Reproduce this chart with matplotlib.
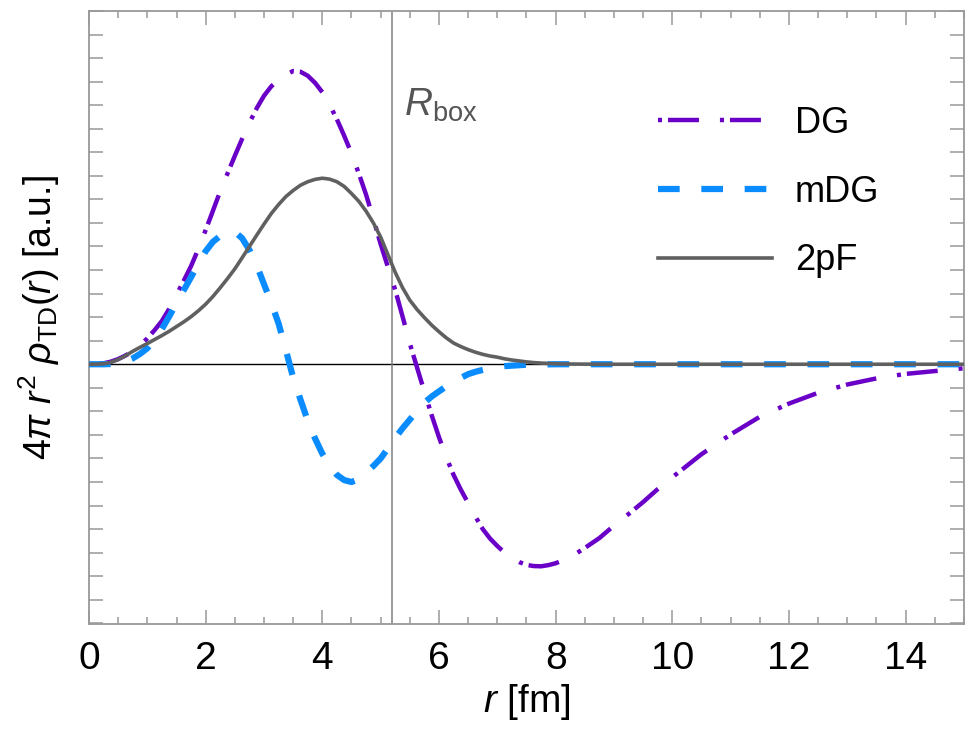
import numpy as np
import matplotlib
matplotlib.use("Agg")
import matplotlib.pyplot as plt
from matplotlib.ticker import MultipleLocator, NullFormatter

plt.rcParams['font.family'] = ['Liberation Sans', 'DejaVu Sans']
plt.rcParams['mathtext.fontset'] = 'custom'
plt.rcParams['mathtext.rm'] = 'Liberation Sans'
plt.rcParams['mathtext.it'] = 'Liberation Sans:italic'
plt.rcParams['mathtext.bf'] = 'Liberation Sans:bold'
plt.rcParams['lines.scale_dashes'] = False

# ---- data (arbitrary units) ----
r_vals = [0, 0.125, 0.25, 0.375, 0.5, 0.625, 0.75, 0.875, 1.0, 1.125, 1.25, 1.375, 1.5, 1.625,
          1.75, 1.875, 2.0, 2.125, 2.25, 2.375, 2.5, 2.625, 2.75, 2.875, 3.0, 3.125, 3.25, 3.375,
          3.5, 3.625, 3.75, 3.875, 4.0, 4.125, 4.25, 4.375, 4.5, 4.625, 4.75, 4.875, 5.0, 5.125,
          5.25, 5.375, 5.5, 5.625, 5.75, 5.875, 6.0, 6.125, 6.25, 6.375, 6.5, 6.625, 6.75, 6.875,
          7.0, 7.125, 7.25, 7.375, 7.5, 7.625, 7.75, 7.875, 8.0,
          8.25, 8.5, 8.75, 9.0, 9.25, 9.5, 9.75, 10.0, 10.5, 11.0, 11.5, 12.0, 12.5, 13.0, 13.5,
          14.0, 14.5, 15.0]

dg = [0, 0.01, 0.04, 0.11, 0.22, 0.37, 0.55, 0.8, 1.1, 1.45, 1.84, 2.35, 2.95, 3.55,
      4.17, 4.9, 5.7, 6.52, 7.35, 8.1, 8.85, 9.57, 10.25, 10.87, 11.4, 11.8, 12.08, 12.3,
      12.45, 12.42, 12.25, 11.95, 11.55, 11.02, 10.4, 9.7, 8.95, 8.1, 7.2, 6.17, 5.1, 4.12,
      3.15, 2.03, 0.88, -0.15, -1.17, -2.17, -3.1, -3.95, -4.7, -5.33, -5.9, -6.47, -7.0, -7.4,
      -7.72, -8.0, -8.23, -8.4, -8.52, -8.57, -8.58, -8.53, -8.45,
      -8.2, -7.8, -7.38, -6.85, -6.36, -5.85, -5.3, -4.8, -3.82, -2.98, -2.23, -1.67, -1.21, -0.86, -0.6,
      -0.41, -0.29, -0.17]

mdg = [0, 0, 0, 0.01, 0.05, 0.12, 0.25, 0.44, 0.68, 1.05, 1.5, 2.03, 2.6, 3.15,
       3.7, 4.27, 4.8, 5.2, 5.45, 5.6, 5.62, 5.35, 4.85, 4.2, 3.4, 2.6, 1.73, 0.6,
       -0.57, -1.5, -2.4, -3.15, -3.8, -4.3, -4.7, -4.92, -5.0, -4.88, -4.6, -4.32, -4.0, -3.57,
       -3.13, -2.72, -2.35, -1.98, -1.63, -1.37, -1.15, -0.94, -0.75, -0.58, -0.42, -0.32, -0.24, -0.17,
       -0.11, -0.08, -0.06, -0.04, -0.02, -0.015, -0.01, -0.005, 0,
       0, 0, 0, 0, 0, 0, 0, 0, 0, 0, 0, 0, 0, 0, 0,
       0, 0, 0]

two_pf = [0, 0.005, 0.02, 0.08, 0.2, 0.36, 0.55, 0.72, 0.88, 1.05, 1.22, 1.4, 1.6, 1.8,
          2.02, 2.27, 2.55, 2.88, 3.25, 3.64, 4.05, 4.52, 5.0, 5.48, 5.95, 6.4, 6.78, 7.12,
          7.38, 7.6, 7.75, 7.85, 7.9, 7.86, 7.75, 7.55, 7.25, 6.92, 6.5, 6.0, 5.4, 4.65,
          3.9, 3.25, 2.72, 2.32, 1.98, 1.66, 1.38, 1.12, 0.9, 0.75, 0.62, 0.51, 0.42, 0.35,
          0.3, 0.23, 0.18, 0.14, 0.1, 0.07, 0.05, 0.035, 0.02,
          0.01, 0.005, 0, 0, 0, 0, 0, 0, 0, 0, 0, 0, 0, 0, 0,
          0, 0, 0]

r_box = 5.2
x_major = [0, 2, 4, 6, 8, 10, 12, 14]
labels = ["DG", "mDG", "2pF"]

# ---- figure ----
W, H = 973, 729
fig = plt.figure(figsize=(W/100, H/100), dpi=100)
ax = fig.add_axes([89/W, 1-624/H, (964-89)/W, (624-11)/H])

ax.axhline(0, color='black', lw=1.0, zorder=1)
ax.axvline(r_box, color='#808080', lw=1.1, zorder=1)

l1, = ax.plot(r_vals, dg, color='#6a00c8', lw=3.2, label=labels[0], zorder=3,
              dash_joinstyle='round')
l1.set_dashes([2.9, 4.3, 22.3, 15.1])
l2, = ax.plot(r_vals, mdg, color='#0a8cff', lw=4.5, label=labels[1], zorder=4,
              dash_joinstyle='round')
l2.set_dashes([15.6, 15.6])
l3, = ax.plot(r_vals, two_pf, color='#606060', lw=2.6, label=labels[2], zorder=5,
              solid_joinstyle='round')

ax.set_xlim(0, 15)
ax.set_ylim(-11.03, 15.0)
ax.set_xticks(x_major)
ax.xaxis.set_minor_locator(MultipleLocator(0.5))
ax.yaxis.set_major_locator(MultipleLocator(1))
ax.yaxis.set_major_formatter(NullFormatter())
ax.tick_params(axis='both', which='both', direction='in', top=True, right=True,
               color='#999999', width=1.1)
ax.tick_params(axis='x', which='major', length=10, labelsize=28, pad=12)
ax.tick_params(axis='x', which='minor', length=5)
ax.tick_params(axis='y', which='major', length=10)
for s in ax.spines.values():
    s.set_color('#999999')
    s.set_linewidth(1.3)

ax.set_xlabel(r'$\mathit{r}$ [fm]', fontsize=28, labelpad=4)
ax.set_ylabel(r'$4\pi\ \mathit{r}^2\ \mathit{\rho}_{\mathrm{TD}}(\mathit{r})$ [a.u.]', fontsize=27, labelpad=16)

ax.text(5.4, 11.0, r'$\mathit{R}_{\mathrm{box}}$', fontsize=28, color='#555555', va='center', ha='left')

leg = ax.legend(loc='upper left', bbox_to_anchor=((658-89)/875, 1-(106-11)/613), frameon=False,
                fontsize=26, handlelength=3.15, handletextpad=0.64, labelspacing=0.93,
                borderaxespad=0, borderpad=0)

fig.savefig('out.png', dpi=100)
